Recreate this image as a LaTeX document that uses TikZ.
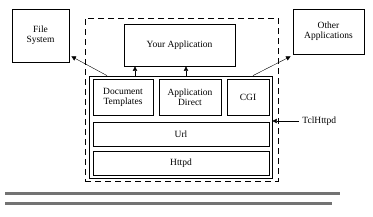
\documentclass[tikz,border=0pt]{standalone}
\usepackage{fontspec}
\setmainfont{Liberation Serif}
\usetikzlibrary{arrows.meta}
\begin{document}
\begin{tikzpicture}[x=1pt, y=-1pt, line width=0.8pt,
    >={Triangle[width=4.5pt,length=4.5pt]},
    every node/.style={font=\fontsize{9.5}{10}\selectfont, align=center, inner sep=0pt},
    box/.style={draw, minimum width=#1},
    frame/.style={draw, dashed, dash pattern=on 6pt off 4pt}]
    \useasboundingbox (0,0) rectangle (373,217);
    % 1. 外部框
    \node[box=57pt, minimum height=53pt] (fs) at (40.5,35.5) {File\\System};
    \node[box=71pt, minimum height=45pt] (oa) at (328.5,31.5) {Other\\Applications};

    % 2. 虚线框与应用
    \node[frame, minimum width=193pt, minimum height=163pt] (frm) at (181.5,99.5) {};
    \node[box=111pt, minimum height=42pt] (app) at (179.5,45) {Your Application};

    % 3. TclHttpd 内部层次
    \node[box=183pt, minimum height=102pt] (tcl) at (180.5,127) {};
    \node[box=60pt, minimum height=36pt] (dt) at (123,97) {Document\\Templates};
    \node[box=62pt, minimum height=36pt] (ad) at (190,97) {Application\\Direct};
    \node[box=42pt, minimum height=36pt] (cgi) at (248,97) {CGI};
    \node[box=176pt, minimum height=24pt] (url) at (181,134) {Url};
    \node[box=176pt, minimum height=24pt] (httpd) at (181,163) {Httpd};
    \node[anchor=west, inner sep=3pt] (lbl) at (299,121) {TclHttpd};

    % 4. 箭头
    \draw[->, thin] (tcl.north -| 135,0) -- (app.south -| 135,0);
    \draw[->, thin] (tcl.north -| 186,0) -- (app.south -| 186,0);
    \draw[->, thin] (tcl.north -| 107,0) -- ([xshift=2pt, yshift=6pt]fs.south east);
    \draw[->, thin] (tcl.north -| 253,0) -- ([xshift=-2pt, yshift=-2pt]oa.south west);
    \draw[->, thin] (lbl.west) -- (lbl.west -| tcl.east);

    % 5. 底部地面线
    \fill[black!55] (5,192) rectangle (340,195);
    \fill[black!55] (5,202) rectangle (332,205);
\end{tikzpicture}
\end{document}
